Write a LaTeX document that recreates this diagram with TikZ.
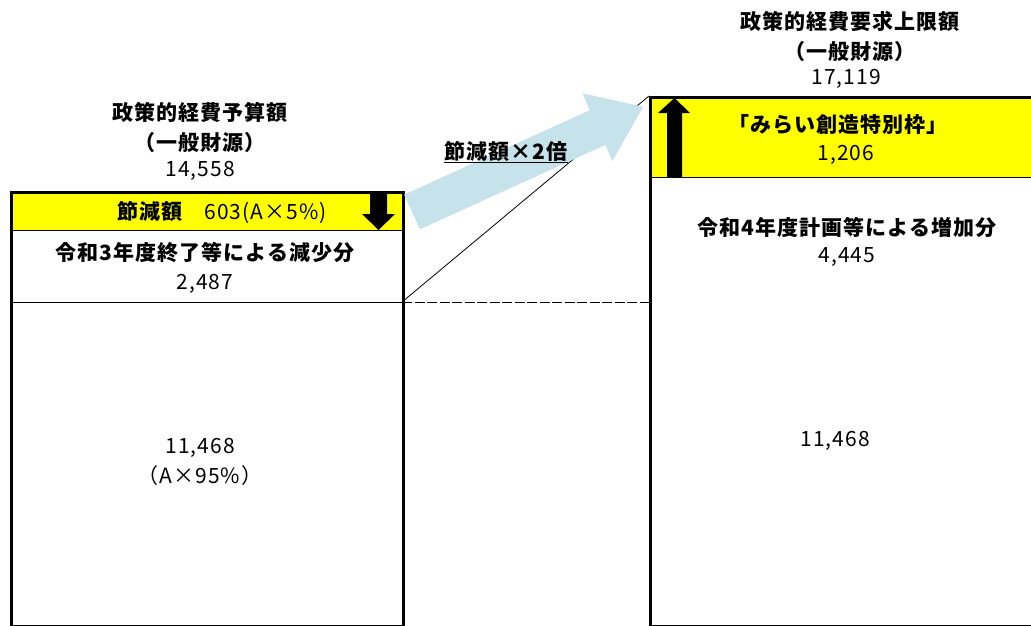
\documentclass[tikz,border=0pt]{standalone}
\usepackage{fontspec}
\setmainfont{Noto Sans CJK JP}
\newfontfamily\jp[LetterSpace=5]{Noto Sans CJK JP}
\definecolor{arrowblue}{RGB}{198,226,235}
\definecolor{band}{RGB}{255,255,0}
\begin{document}
\begin{tikzpicture}[x=1pt,y=-1pt,
  txt/.style={font=\jp\bfseries\fontsize{21}{30}\selectfont, align=center, inner sep=0pt},
  numtxt/.style={font=\jp\fontsize{21}{30}\selectfont, align=center, inner sep=0pt},
  boxframe/.style={draw=black, line width=3pt, inner sep=0pt, anchor=north west},
  thinline/.style={draw=black, line width=1pt},
  blockarrow/.style={fill=black}]
\useasboundingbox (0,0) rectangle (1031,626);
\fill[white] (0,0) rectangle (1031,626);

% left column
\fill[band] (10,191) rectangle (402,230);
\coordinate (Lband) at (10,230);
\coordinate (LbandE) at (402,230);
\coordinate (Lmid) at (10,302);
\coordinate (LmidE) at (402,302);
\draw[thinline] (Lband) -- (LbandE);
\draw[thinline] (Lmid) -- (LmidE);
\node[boxframe, minimum width=392pt, minimum height=434pt] (L) at (10,191) {};
\fill[blockarrow] (370,193) -- (387,193) -- (387,214) -- (395,214) -- (378.5,230) -- (362,214) -- (370,214) -- cycle;

% right column
\fill[band] (649,96) rectangle (1040,177);
\coordinate (Rband) at (649,177);
\coordinate (RbandE) at (1040,177);
\coordinate (Rmid) at (649,302);
\draw[thinline] (Rband) -- (RbandE);
\node[boxframe, minimum width=391pt, minimum height=529pt] (R) at (649,96) {};
\fill[blockarrow] (667,177) -- (682,177) -- (682,113) -- (690,113) -- (674.5,98) -- (658,113) -- (667,113) -- cycle;

% connectors
\draw[black, line width=0.8pt, dash pattern=on 10pt off 2.5pt] (LmidE) -- (Rmid);
\draw[black, line width=0.8pt] (LmidE) -- (R.north west);

% big blue arrow
\fill[arrowblue] (404.1,194.7) -- (589.7,110.2) -- (582.7,93.3) -- (643.1,106.8) -- (612.3,161.2) -- (605.5,144.8) -- (419.9,229.3) -- cycle;
\node[txt] (x2) at (506,152) {\underline{節減額×2倍}};

% left texts
\node[txt] (Ltitle) at (200,127) {政策的経費予算額\\（一般財源）};
\node[numtxt] (Lttl) at (200,171) {14,558};
\node[txt] (Lcut) at (222,212) {節減額　{\mdseries 603(A×5\%)}};
\node[txt] (Ldec) at (205,253) {令和3年度終了等による減少分};
\node[numtxt] (Ldecn) at (205,284) {2,487};
\node[numtxt] (Lbase) at (200,462) {11,468\\（A×95\%）};

% right texts
\node[txt] (Rtitle) at (850,36) {政策的経費要求上限額\\（一般財源）};
\node[numtxt] (Rttl) at (846,79) {17,119};
\node[txt] (Rnew) at (838,125) {「みらい創造特別枠」};
\node[numtxt] (Rnewn) at (846,155) {1,206};
\node[txt] (Rinc) at (847,227) {令和4年度計画等による増加分};
\node[numtxt] (Rincn) at (847,257) {4,445};
\node[numtxt] (Rbase) at (835,441) {11,468};
\end{tikzpicture}
\end{document}
